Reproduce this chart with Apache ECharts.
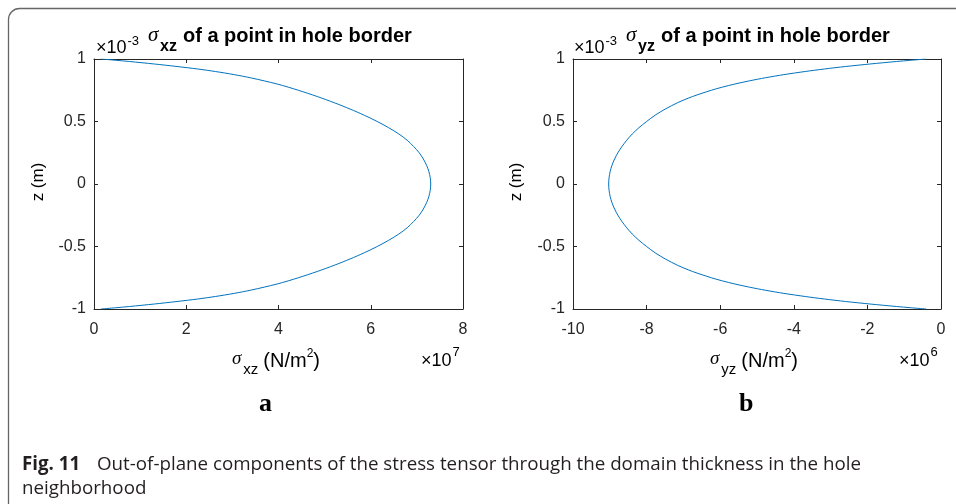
<!DOCTYPE html>
<html>
<head>
<meta charset="utf-8">
<script src="https://cdn.jsdelivr.net/npm/echarts@6/dist/echarts.min.js"></script>
<style>html,body{margin:0;padding:0;background:#fff;}#c{width:956px;height:504px;}</style>
</head>
<body>
<div id="c"></div>
<script>
// z through thickness (×10^-3 m)
const zLevels = [1, 0.99, 0.98, 0.96, 0.94, 0.92, 0.9, 0.875, 0.85, 0.825, 0.8, 0.775, 0.75, 0.7, 0.65, 0.6, 0.55, 0.5,
  0.45, 0.4, 0.35, 0.3, 0.25, 0.2, 0.15, 0.1, 0.05, 0,
  -0.05, -0.1, -0.15, -0.2, -0.25, -0.3, -0.35, -0.4, -0.45, -0.5, -0.55, -0.6, -0.65, -0.7, -0.75, -0.775, -0.8,
  -0.825, -0.85, -0.875, -0.9, -0.92, -0.94, -0.96, -0.98, -0.99, -1];
// sigma_xz (×10^7 N/m^2)
const sigmaXZ = [0.15, 0.47, 0.77, 1.31, 1.80, 2.25, 2.63, 3.04, 3.39, 3.69, 3.97, 4.21, 4.43, 4.84, 5.21, 5.55, 5.86, 6.14,
  6.39, 6.61, 6.79, 6.93, 7.05, 7.14, 7.21, 7.26, 7.29, 7.30,
  7.29, 7.26, 7.21, 7.14, 7.05, 6.93, 6.79, 6.61, 6.39, 6.14, 5.86, 5.55, 5.21, 4.84, 4.43, 4.21, 3.97,
  3.69, 3.39, 3.04, 2.63, 2.25, 1.80, 1.31, 0.77, 0.47, 0.15];
// sigma_yz (×10^6 N/m^2)
const sigmaYZ = [-0.40, -0.82, -1.21, -1.93, -2.59, -3.17, -3.69, -4.27, -4.77, -5.21, -5.60, -5.94, -6.24, -6.75, -7.16, -7.49, -7.77, -8.00,
  -8.21, -8.39, -8.54, -8.67, -8.78, -8.87, -8.94, -8.99, -9.02, -9.03,
  -9.02, -8.99, -8.94, -8.87, -8.78, -8.67, -8.54, -8.39, -8.21, -8.00, -7.77, -7.49, -7.16, -6.75, -6.24, -5.94, -5.60,
  -5.21, -4.77, -4.27, -3.69, -3.17, -2.59, -1.93, -1.21, -0.82, -0.40];
const xTicksA = {min: 0, max: 8, interval: 2};
const xTicksB = {min: -10, max: 0, interval: 2};
const yTicks = {min: -1, max: 1, interval: 0.5};

const chart = echarts.init(document.getElementById('c'), null, {renderer: 'canvas'});
const AX = '#262626';
const SANS = 'Liberation Sans, Arial, sans-serif';
const SERIF = 'Liberation Serif, Times New Roman, serif';
const CAP = 'Open Sans, sans-serif';

const mctx = document.createElement('canvas').getContext('2d');
function measure(s, o) {
  mctx.font = (o.style || 'normal') + ' ' + (o.weight || 'normal') + ' ' + o.size + 'px ' + (o.family || SANS);
  return mctx.measureText(s).width;
}

function xAx(grid, t, pos) {
  return {
    type: 'value', gridIndex: grid, position: pos, min: t.min, max: t.max, interval: t.interval,
    axisLine: {show: true, onZero: false, lineStyle: {color: AX, width: 1}},
    axisTick: {show: true, inside: true, length: 4, lineStyle: {color: AX}},
    axisLabel: {show: pos === 'bottom', color: AX, fontSize: 16, fontFamily: SANS, margin: 13},
    splitLine: {show: false}
  };
}
function yAx(grid, pos) {
  return {
    type: 'value', gridIndex: grid, position: pos, min: yTicks.min, max: yTicks.max, interval: yTicks.interval,
    axisLine: {show: true, onZero: false, lineStyle: {color: AX, width: 1}},
    axisTick: {show: true, inside: true, length: 4, lineStyle: {color: AX}},
    axisLabel: {show: pos === 'left', color: AX, fontSize: 16, fontFamily: SANS, margin: 8},
    splitLine: {show: false}
  };
}

function txt(x, y, s, size, opts) {
  opts = opts || {};
  return {
    type: 'text', x: x, y: y, rotation: opts.rot || 0,
    style: {
      text: s, fill: opts.color || '#000', fontSize: size,
      fontFamily: opts.family || SANS, fontWeight: opts.weight || 'normal',
      fontStyle: opts.style || 'normal',
      align: opts.align || 'left', verticalAlign: opts.va || 'middle'
    }
  };
}
// lay out text pieces one after another
function seq(x, parts) {
  const out = [];
  parts.forEach(p => {
    x += (p.gap || 0);
    out.push(txt(x, p.y, p.t, p.size, p));
    x += measure(p.t, p);
  });
  return out;
}

function panelTexts(dx, sub, expX) {
  return [
    ...seq(96 + dx, [
      {t: '\u00d710', size: 18, y: 48},
      {t: '-3', size: 13, y: 41, gap: 1}
    ]),
    txt(148 + dx, 35, '\u03c3', 21, {family: SERIF, style: 'italic'}),
    txt(160 + dx, 47, sub, 16, {weight: 'bold'}),
    txt(183 + dx, 36, 'of a point in hole border', 20, {weight: 'bold'}),
    ...seq(232 + dx, [
      {t: '\u03c3', size: 19, y: 359, family: SERIF, style: 'italic'},
      {t: sub, size: 15, y: 370, gap: 2},
      {t: '(N/m', size: 20, y: 361, gap: 5},
      {t: '2', size: 12, y: 354},
      {t: ')', size: 20, y: 361}
    ]),
    ...seq(421 + dx, [
      {t: '\u00d710', size: 18, y: 361},
      {t: expX, size: 13, y: 352, gap: 1}
    ]),
    txt(38 + dx, 182, 'z (m)', 17, {rot: Math.PI / 2, align: 'center'}),
  ];
}

const option = {
  animation: false,
  backgroundColor: '#fff',
  grid: [
    {left: 94, top: 59, width: 369, height: 250},
    {left: 573, top: 59, width: 368, height: 250}
  ],
  xAxis: [xAx(0, xTicksA, 'bottom'), xAx(0, xTicksA, 'top'), xAx(1, xTicksB, 'bottom'), xAx(1, xTicksB, 'top')],
  yAxis: [yAx(0, 'left'), yAx(0, 'right'), yAx(1, 'left'), yAx(1, 'right')],
  series: [
    {type: 'line', xAxisIndex: 0, yAxisIndex: 0, showSymbol: false, smooth: 0.3,
     lineStyle: {color: '#0072BD', width: 1}, data: zLevels.map((z, i) => [sigmaXZ[i], z])},
    {type: 'line', xAxisIndex: 2, yAxisIndex: 2, showSymbol: false, smooth: 0.3,
     lineStyle: {color: '#0072BD', width: 1}, data: zLevels.map((z, i) => [sigmaYZ[i], z])}
  ],
  graphic: [
    {type: 'rect', shape: {x: 8.5, y: 8.5, width: 960, height: 600, r: 11},
     style: {fill: 'none', stroke: '#666', lineWidth: 1.3}, silent: true},
    ...panelTexts(0, 'xz', '7'),
    ...panelTexts(478, 'yz', '6'),
    txt(259, 404, 'a', 26, {family: SERIF, weight: 'bold'}),
    txt(739, 404, 'b', 26, {family: SERIF, weight: 'bold'}),
    txt(22, 465, 'Fig. 11', 18.75, {family: CAP, weight: 'bold', color: '#231f20'}),
    txt(97, 465, 'Out-of-plane components of the stress tensor through the domain thickness in the hole', 18.75,
        {family: CAP, color: '#231f20'}),
    txt(22, 489, 'neighborhood', 18.75, {family: CAP, color: '#231f20'})
  ]
};
chart.setOption(option);
</script>
</body>
</html>
